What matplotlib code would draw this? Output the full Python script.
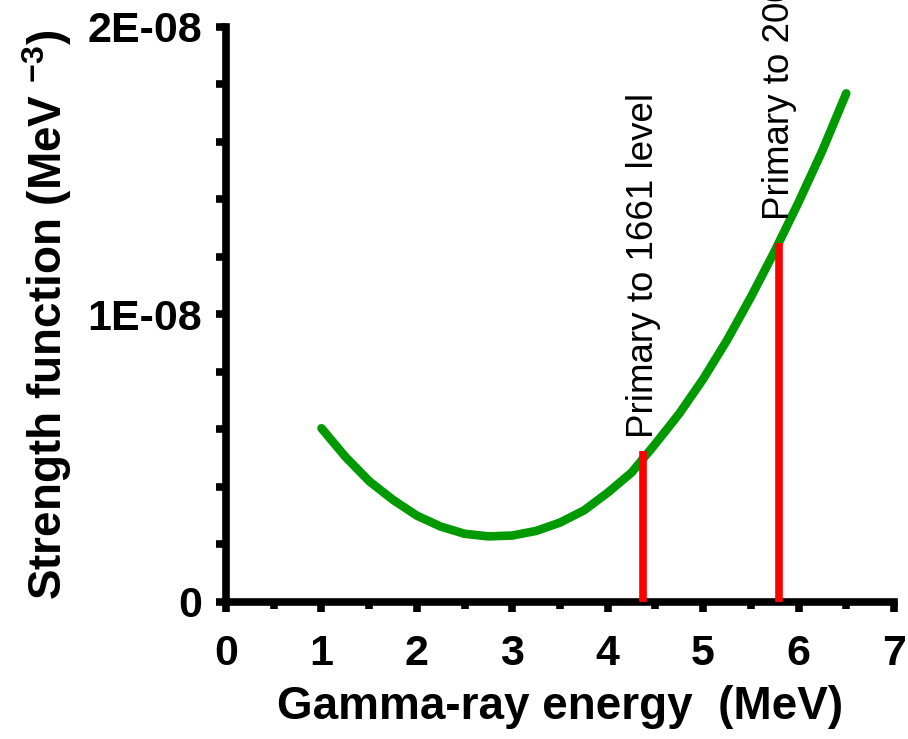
import numpy as np
import matplotlib
matplotlib.use("Agg")
import matplotlib.pyplot as plt
from matplotlib.ticker import MultipleLocator

plt.rcParams['font.family'] = ['Liberation Sans', 'DejaVu Sans']
plt.rcParams['mathtext.fontset'] = 'custom'
plt.rcParams['mathtext.rm'] = 'Liberation Sans:bold'
plt.rcParams['mathtext.bf'] = 'Liberation Sans:bold'
plt.rcParams['mathtext.default'] = 'rm'

# strength function vs gamma-ray energy (MeV, MeV^-3)
energy = [1.00, 1.25, 1.50, 1.75, 2.00, 2.25, 2.50, 2.75, 3.00, 3.25, 3.50,
          3.75, 4.00, 4.25, 4.50, 4.75, 5.00, 5.25, 5.50, 5.75, 6.00, 6.25,
          6.50]
strength = np.array([0.604, 0.505, 0.420, 0.355, 0.300, 0.262, 0.237, 0.228,
                     0.231, 0.247, 0.276, 0.318, 0.380, 0.450, 0.550, 0.655,
                     0.775, 0.910, 1.060, 1.220, 1.390, 1.570, 1.769]) * 1e-8

# primary transitions
level_energy = [4.37, 5.80]
level_strength = np.array([0.525, 1.25]) * 1e-8
level_labels = ["Primary to 1661 level", "Primary to 2000 level"]
label_offset = [9, 16]   # points above the line top

ytick_vals = [0, 1e-8, 2e-8]
ytick_labels = ["0", "1E-08", "2E-08"]
xtick_vals = [0, 1, 2, 3, 4, 5, 6, 7]

fig = plt.figure(figsize=(9.08, 7.39), dpi=100)
ax = fig.add_axes([0.249, 0.1855, 0.7355, 0.778])

ax.plot(energy, strength, color="#009900", lw=6.2, solid_capstyle="round",
        solid_joinstyle="round", zorder=3)
ax.vlines(level_energy, 0, level_strength, color="#ff0000", lw=5.5, zorder=4)

for x, y, txt, off in zip(level_energy, level_strength, level_labels, label_offset):
    ax.annotate(txt, (x, y), xytext=(0, off), textcoords="offset points",
                rotation=90, ha="center", va="bottom", fontsize=26.5,
                annotation_clip=False)

ax.set_xlim(0, 7)
ax.set_ylim(0, 2e-8)
ax.set_xticks(xtick_vals)
ax.set_yticks(ytick_vals, ytick_labels)
ax.xaxis.set_minor_locator(MultipleLocator(0.5))
ax.yaxis.set_minor_locator(MultipleLocator(0.2e-8))

for side in ["top", "right"]:
    ax.spines[side].set_visible(False)
for side in ["left", "bottom"]:
    ax.spines[side].set_linewidth(5.5)

ax.tick_params(axis="x", which="major", direction="out", length=7, width=5.5,
               pad=16, labelsize=31)
ax.tick_params(axis="x", which="minor", direction="out", length=5, width=5.5)
ax.tick_params(axis="y", which="both", direction="out", length=7, width=5.5,
               pad=10, labelsize=31)
for lab in ax.get_xticklabels() + ax.get_yticklabels():
    lab.set_fontweight("bold")

ax.set_xlabel("Gamma-ray energy  (MeV)", fontsize=33, fontweight="bold",
              labelpad=8)
ax.set_ylabel(r"Strength function (MeV $^{-3}$)", fontsize=33,
              fontweight="bold", labelpad=10)

fig.savefig("out.png", dpi=100)
